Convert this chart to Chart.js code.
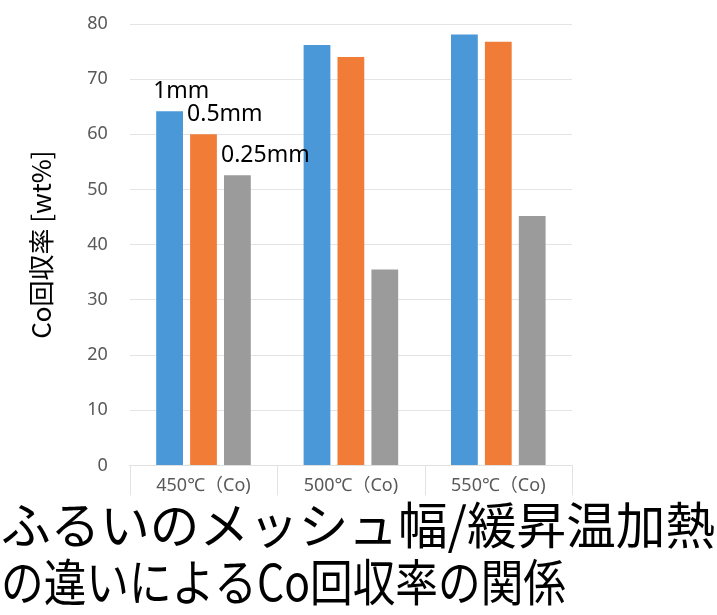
<!DOCTYPE html>
<html lang="ja">
<head>
<meta charset="UTF-8">
<title>Co回収率</title>
<script src="https://cdn.jsdelivr.net/npm/chart.js"></script>
<style>
  html, body { margin: 0; padding: 0; background: #fff; }
  #wrap { width: 717px; height: 615px; }
</style>
</head>
<body>
<div id="wrap"><canvas id="c"></canvas></div>
<script>
const categories = ['450℃（Co)', '500℃（Co)', '550℃（Co)'];
const meshLabels = ['1mm', '0.5mm', '0.25mm'];
const mesh1 = [64.2, 76.2, 78.1];
const mesh05 = [60.0, 74.0, 76.8];
const mesh025 = [52.6, 35.5, 45.2];
const yTicks = [0, 10, 20, 30, 40, 50, 60, 70, 80];
const titleLines = ['ふるいのメッシュ幅/緩昇温加熱', 'の違いによるCo回収率の関係'];
const colors = ['#4b98d8', '#f07c38', '#9b9b9b'];

// writes each series name just above its bar in the first group
const barNames = {
  id: 'barNames',
  afterDatasetsDraw(chart) {
    const ctx = chart.ctx;
    ctx.save();
    ctx.font = '23px "Noto Sans", sans-serif';
    ctx.fillStyle = '#000';
    ctx.textAlign = 'left';
    ctx.textBaseline = 'alphabetic';
    chart.data.datasets.forEach((ds, i) => {
      const bar = chart.getDatasetMeta(i).data[0];
      ctx.fillText(ds.label, bar.x - bar.width / 2 - 3, bar.y - 13);
    });
    ctx.restore();
  }
};

// short dividers under the x axis between the categories
const dividers = {
  id: 'dividers',
  afterDraw(chart) {
    const x = chart.scales.x;
    const ctx = chart.ctx;
    const half = (x.getPixelForTick(1) - x.getPixelForTick(0)) / 2;
    ctx.save();
    ctx.strokeStyle = '#e3e3e3';
    ctx.lineWidth = 1;
    for (let i = 0; i <= categories.length; i++) {
      const px = Math.round(x.getPixelForTick(0) - half + i * 2 * half) + 0.5;
      ctx.beginPath();
      ctx.moveTo(px, chart.chartArea.bottom);
      ctx.lineTo(px, chart.chartArea.bottom + 30);
      ctx.stroke();
    }
    ctx.restore();
  }
};

// big caption under the chart, spanning the whole canvas width
const caption = {
  id: 'caption',
  afterDraw(chart) {
    const ctx = chart.ctx;
    ctx.save();
    ctx.font = '50px "Noto Sans CJK JP", sans-serif';
    ctx.fillStyle = '#000';
    ctx.textAlign = 'left';
    ctx.textBaseline = 'middle';
    ctx.fillText(titleLines[0], 1, 525, 714);
    ctx.fillText(titleLines[1], 1, 582, 565);
    ctx.restore();
  }
};

new Chart(document.getElementById('c'), {
  type: 'bar',
  data: {
    labels: categories,
    datasets: [mesh1, mesh05, mesh025].map((d, i) => ({
      label: meshLabels[i],
      data: d,
      backgroundColor: colors[i],
      categoryPercentage: 0.69,
      barPercentage: 0.79
    }))
  },
  options: {
    responsive: true,
    maintainAspectRatio: false,
    animation: false,
    layout: { padding: { top: 24, right: 145, left: 22, bottom: 116 } },
    plugins: {
      legend: { display: false },
      tooltip: { enabled: false }
    },
    scales: {
      x: {
        grid: { display: false },
        border: { color: '#e0e0e0' },
        ticks: { color: '#595959', font: { family: '"Noto Sans", "Noto Sans CJK JP", sans-serif', size: 18 }, padding: 2 }
      },
      y: {
        min: 0,
        max: 80,
        afterBuildTicks: axis => { axis.ticks = yTicks.map(v => ({ value: v })); },
        afterFit: axis => { axis.paddingTop = 0; },
        grid: { color: '#e4e4e4', drawTicks: false },
        border: { display: false },
        ticks: { color: '#595959', font: { family: '"Noto Sans", sans-serif', size: 18 }, padding: 22 },
        title: {
          display: true,
          text: 'Co回収率 [wt%]',
          color: '#000',
          font: { family: '"Noto Sans CJK JP", sans-serif', size: 26 },
          padding: { bottom: 8 }
        }
      }
    }
  },
  plugins: [barNames, dividers, caption]
});
</script>
</body>
</html>
